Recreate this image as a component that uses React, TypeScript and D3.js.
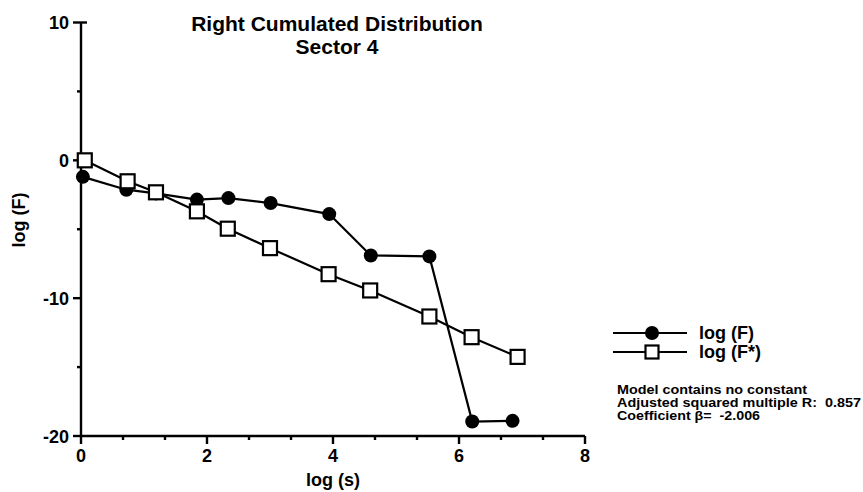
import React from "react";
import * as d3 from "d3";

// log (F) - filled circles
const logS_F = [0.03, 0.72, 1.19, 1.84, 2.34, 3.01, 3.94, 4.6, 5.53, 6.21, 6.85];
const logF = [-1.2, -2.13, -2.4, -2.85, -2.74, -3.1, -3.9, -6.9, -6.97, -18.95, -18.9];

// log (F*) - open squares
const logS_Fs = [0.06, 0.74, 1.19, 1.84, 2.33, 3.0, 3.93, 4.59, 5.53, 6.2, 6.93];
const logFs = [0, -1.52, -2.32, -3.7, -4.96, -6.37, -8.26, -9.44, -11.33, -12.83, -14.26];

const xTicks = [0, 2, 4, 6, 8];
const yTicks = [-20, -10, 0, 10];
const titleLines = ["Right Cumulated Distribution", "Sector 4"];
const notes = [
  "Model contains no constant",
  "Adjusted squared multiple R:  0.857",
  "Coefficient \u03B2=  -2.006",
];
// approximate printed widths of the note lines
const noteWidths = [190, 244, 143];

function App() {
  const W = 863;
  const H = 492;
  const x = d3.scaleLinear().domain([0, 8]).range([81, 585]);
  const y = d3.scaleLinear().domain([-20, 10]).range([436, 22.5]);

  const fData = logS_F.map((s, i) => ({ x: s, y: logF[i] }));
  const fsData = logS_Fs.map((s, i) => ({ x: s, y: logFs[i] }));

  const line = d3.line<{ x: number; y: number }>()
    .x((d) => x(d.x))
    .y((d) => y(d.y));

  const xMinor = d3.range(0, 8.001, 2 / 3).filter((v) => Math.abs(v / 2 - Math.round(v / 2)) > 0.01);
  const yMinor = [-15, -5, 5];

  const font = "'Liberation Sans', Arial, Helvetica, sans-serif";

  return (
    <svg
      width={W}
      height={H}
      style={{ position: "absolute", left: 0, top: 0, background: "#fff" }}
      fontFamily={font}
    >
      <rect width={W} height={H} fill="#fff" />
      {/* title */}
      {titleLines.map((t, i) => (
        <text key={t} x={337} y={31 + i * 23} textAnchor="middle" fontSize={21} fontWeight="bold">
          {t}
        </text>
      ))}

      {/* axes */}
      <g stroke="#000" strokeWidth={2.4} fill="none">
        <line x1={x(0)} x2={x(0)} y1={y(10)} y2={y(-20)} />
        <line x1={x(0)} x2={x(8)} y1={y(-20)} y2={y(-20)} />
        <line x1={x(0)} x2={x(0) + 6} y1={y(10)} y2={y(10)} />
        {yTicks.map((t) => (
          <line key={t} x1={x(0) - 8} x2={x(0)} y1={y(t)} y2={y(t)} />
        ))}
        {yMinor.map((t) => (
          <line key={t} x1={x(0) - 4} x2={x(0)} y1={y(t)} y2={y(t)} />
        ))}
        {xTicks.map((t) => (
          <line key={t} x1={x(t)} x2={x(t)} y1={y(-20)} y2={y(-20) + 8} />
        ))}
        {xMinor.map((t) => (
          <line key={t} x1={x(t)} x2={x(t)} y1={y(-20)} y2={y(-20) + 4} />
        ))}
      </g>

      {/* tick labels */}
      {yTicks.map((t) => (
        <text key={t} x={x(0) - 12} y={y(t) + 6.5} textAnchor="end" fontSize={18} fontWeight="bold">
          {t}
        </text>
      ))}
      {xTicks.map((t) => (
        <text key={t} x={x(t)} y={y(-20) + 26} textAnchor="middle" fontSize={18} fontWeight="bold">
          {t}
        </text>
      ))}
      <text x={x(4)} y={486} textAnchor="middle" fontSize={18} fontWeight="bold">
        log (s)
      </text>
      <text
        transform="translate(25, 220) rotate(-90)"
        textAnchor="middle"
        fontSize={18}
        fontWeight="bold"
      >
        log (F)
      </text>

      {/* series */}
      <path d={line(fData) ?? ""} fill="none" stroke="#000" strokeWidth={2.2} />
      <path d={line(fsData) ?? ""} fill="none" stroke="#000" strokeWidth={2.2} />
      {fData.map((d, i) => (
        <circle key={i} cx={x(d.x)} cy={y(d.y)} r={7} fill="#000" />
      ))}
      {fsData.map((d, i) => (
        <rect
          key={i}
          x={x(d.x) - 7}
          y={y(d.y) - 7}
          width={14}
          height={14}
          fill="#fff"
          stroke="#000"
          strokeWidth={2.2}
        />
      ))}

      {/* legend */}
      <g stroke="#000" strokeWidth={2.2}>
        <line x1={613} x2={687} y1={333} y2={333} />
        <line x1={613} x2={687} y1={352} y2={352} />
      </g>
      <circle cx={652} cy={333} r={7} fill="#000" />
      <rect x={645.5} y={345.5} width={13} height={13} fill="#fff" stroke="#000" strokeWidth={2.2} />
      <text x={699} y={339} fontSize={18} fontWeight="bold">
        log (F)
      </text>
      <text x={699} y={358} fontSize={18} fontWeight="bold">
        log (F*)
      </text>

      {notes.map((n, i) => (
        <text
          key={n}
          x={617}
          y={394 + i * 13}
          fontSize={12.5}
          fontWeight="bold"
          xmlSpace="preserve"
          textLength={noteWidths[i]}
          lengthAdjust="spacingAndGlyphs"
        >
          {n}
        </text>
      ))}
    </svg>
  );
}

export default App;
